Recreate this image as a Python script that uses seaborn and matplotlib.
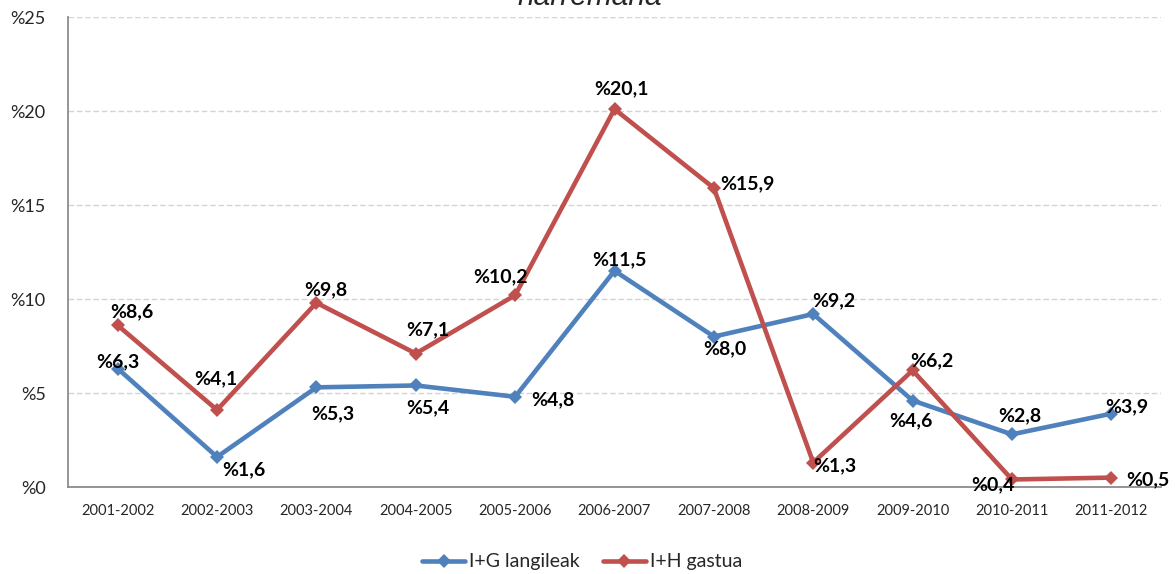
import matplotlib
matplotlib.use("Agg")
from matplotlib import pyplot as plt
from matplotlib.ticker import FuncFormatter, FixedLocator
import pandas as pd
import seaborn as sns

# chart data
periods = ["2001-2002", "2002-2003", "2003-2004", "2004-2005", "2005-2006", "2006-2007",
           "2007-2008", "2008-2009", "2009-2010", "2010-2011", "2011-2012"]
langileak = [6.3, 1.6, 5.3, 5.4, 4.8, 11.5, 8.0, 9.2, 4.6, 2.8, 3.9]
gastua = [8.6, 4.1, 9.8, 7.1, 10.2, 20.1, 15.9, 1.3, 6.2, 0.4, 0.5]
series_names = ["I+G langileak", "I+H gastua"]
y_ticks = [0, 5, 10, 15, 20, 25]

# label offsets in pixels (dx, dy), tuned by eye
blue_offsets = [(0, 7), (27, -13), (16, -26), (12, -22), (38, -3), (5, 11),
                (11, -12), (21, 13), (-2, -20), (8, 19), (15, 7)]
red_offsets = [(14, 14), (-1, 31), (9, 13), (12, 24), (-15, 18), (7, 20),
               (34, 4), (22, -3), (19, 10), (-19, -5), (37, -2)]

colors = {"I+G langileak": "#4F81BD", "I+H gastua": "#C0504D"}

df = pd.DataFrame({
    "periodo": periods * 2,
    "balioa": langileak + gastua,
    "saila": [series_names[0]] * len(periods) + [series_names[1]] * len(periods),
})

sns.set_style("white")
plt.rcParams["font.family"] = ["Lato", "DejaVu Sans"]

fig = plt.figure(figsize=(11.75, 5.74), dpi=100)
ax = fig.add_axes([68 / 1175, 1 - 487 / 574, (1161 - 68) / 1175, (487 - 17) / 574])

sns.lineplot(data=df, x="periodo", y="balioa", hue="saila", style="saila",
             palette=colors, markers={n: "D" for n in series_names}, dashes=False,
             sort=False, linewidth=3.3, markersize=7.5, markeredgewidth=0, ax=ax)

ax.set_xlim(-0.5, len(periods) - 0.5)
ax.set_ylim(0, 25)
ax.set_xlabel("")
ax.set_ylabel("")

ax.yaxis.set_major_locator(FixedLocator(y_ticks))
ax.yaxis.set_major_formatter(FuncFormatter(lambda v, _: f"%{v:.0f}"))
ax.grid(axis="y", color="#d4d4d4", linestyle=(0, (4, 2)), linewidth=1)
ax.set_axisbelow(True)

for side in ["top", "right"]:
    ax.spines[side].set_visible(False)
for side in ["left", "bottom"]:
    ax.spines[side].set_color("#8c8c8c")
    ax.spines[side].set_linewidth(1.3)

ax.tick_params(axis="y", which="major", direction="out", length=6, color="#8c8c8c",
               labelsize=13, pad=10)
ax.set_xticks(range(len(periods)))
ax.set_xticklabels(periods)
ax.set_xticks([i - 0.5 for i in range(len(periods) + 1)], minor=True)
ax.tick_params(axis="x", which="major", length=0, labelsize=10.5, pad=12)
ax.tick_params(axis="x", which="minor", direction="out", length=6, color="#8c8c8c")

# data labels
for vals, offs in [(langileak, blue_offsets), (gastua, red_offsets)]:
    for i, (v, (dx, dy)) in enumerate(zip(vals, offs)):
        ax.annotate(f"%{v:.1f}".replace(".", ","), (i, v), xytext=(dx * 0.72, dy * 0.72),
                    textcoords="offset points", ha="center", va="center",
                    fontsize=14, fontweight="bold", color="black")

# legend at the bottom
handles, labels = ax.get_legend_handles_labels()
ax.legend_.remove()
fig.legend(handles, labels, loc="center", bbox_to_anchor=(582 / 1175, 1 - 562 / 574),
           ncol=2, frameon=False, fontsize=14, handlelength=2.2, columnspacing=1.2,
           handletextpad=0.2)

# title, mostly clipped at the top edge as in the source image
fig.text(590 / 1175, 1 - 5 / 574, "harremana", ha="center", va="baseline",
         fontsize=21.5, style="italic", family=["Liberation Sans", "DejaVu Sans"])

fig.savefig("out.png", dpi=100)
